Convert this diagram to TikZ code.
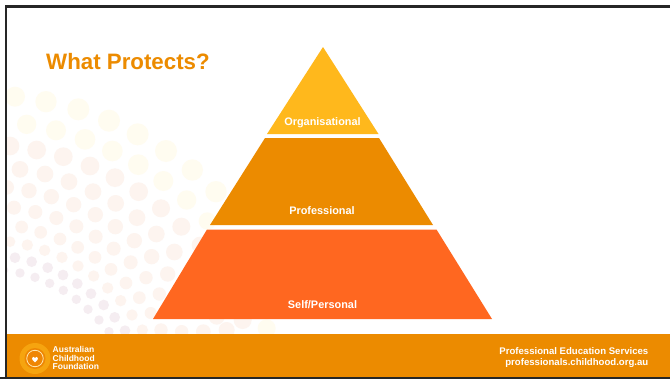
\documentclass[tikz,border=0pt]{standalone}
\usepackage{fontspec}
\setmainfont{Liberation Sans}
\definecolor{ygold}{HTML}{FFB81C}
\definecolor{oband}{HTML}{EC8B00}
\definecolor{ored}{HTML}{FF6720}
\definecolor{dotY}{HTML}{FFFCF0}
\definecolor{dotP}{HTML}{FDF4EF}
\definecolor{dotV}{HTML}{F5EDF1}
\tikzset{
  px/.style={x=1pt,y=-1pt},
  lvl/.style={font=\fontsize{10.9}{12}\selectfont\bfseries,text=white,inner sep=0pt},
  foot/.style={font=\fontsize{9.6}{11.3}\selectfont\bfseries,text=white,inner sep=0pt},
}
\newcommand{\dotrow}[2]{\foreach \a/\b/\r in {#2}{\fill[#1] ({\a/3},{70+\b/3}) circle ({\r/3});}}
\begin{document}
\begin{tikzpicture}[px]
\useasboundingbox (0,0) rectangle (670,380);
\fill[white] (0,0) rectangle (670,380);
\begin{scope}
\clip (7,7) rectangle (670,334);
\dotrow{dotY}{45/80/30,138/95/32,235/118/33,327/152/33,413/193/33,498/243/33,577/300/32,648/365/32,80/163/29,168/181/30,255/208/31,337/243/31,415/284/31,490/333/30,560/390/29,622/453/26}
\dotrow{dotP}{30/228/28,110/240/28,190/260/28,270/288/28,345/323/28,416/365/28,483/415/27,544/470/27,600/525/25,
60/298/25,135/312/25,207/335/25,279/365/25,347/400/25,411/443/25,469/492/25,523/546/25,575/600/25,
20/352/22,87/362/23,154/380/23,221/404/23,286/434/23,346/470/23,403/512/23,455/560/23,503/612/23,553/665/23,
42/413/21,106/426/21,169/444/21,229/469/21,287/500/21,341/536/21,392/577/21,438/623/20,478/672/20,
65/471/19,122/487/19,180/507/19,233/532/19,285/562/19,333/598/19,378/639/19,418/683/19,452/729/18,
30/515/16,82/525/17,134/541/17,186/562/17,234/588/17,281/618/17,323/654/17,362/692/17,396/735/17,427/780/17,
483/780/20,545/785/20,610/785/22,680/780/24,650/740/24,728/750/27}
\dotrow{dotY}{800/775/27}
\dotrow{dotV}{45/563/16,95/575/16,143/593/16,189/615/16,232/641/16,273/671/16,311/705/16,344/742/16,375/782/16,
15/600/10,60/609/14,105/622/14,149/640/14,190/661/14,229/688/14,264/718/14,297/750/14,327/785/14}
\end{scope}
\fill[ygold] (323,47) -- (378.5,134) -- (267,134) -- cycle;
\fill[oband] (265,138) -- (379,138) -- (433,225) -- (210,225) -- cycle;
\fill[ored] (207,229.5) -- (436.5,229.5) -- (492,319) -- (153,319) -- cycle;
\fill[oband] (7,334) rectangle (670,377);
\fill[black!85] (0,377) rectangle (670,378.5);
\fill[black!85] (4.5,5) rectangle (7,378.5);
\fill[black!85] (4.5,5) rectangle (670,7.5);
\node[anchor=west,inner sep=0pt,text=oband,font=\fontsize{22.3}{27}\selectfont\bfseries] (title) at (46,62) {What Protects?};
\node[lvl] (org) at (322.5,123) {Organisational};
\node[lvl] (pro) at (322,211) {Professional};
\node[lvl] (self) at (322.5,305) {Self/Personal};
\fill[ygold!55!oband] (35,358.5) circle (15.5);
\fill[oband!90!ored] (35,358.5) circle (10.5);
\draw[ygold!35!white,line width=.9pt] (35,358.5) circle (8.2);
\fill[oband!85!ored] (35,358.5) circle (7.5);
\fill[white] (35,362.3) .. controls (32.5,360.2) and (31.8,359.2) .. (32.1,358) .. controls (32.6,356.6) and (34.5,356.6) .. (35,358) .. controls (35.5,356.6) and (37.4,356.6) .. (37.9,358) .. controls (38.2,359.2) and (37.5,360.2) .. (35,362.3) -- cycle;
\node[anchor=west,inner sep=0pt,text=white,align=left,font=\fontsize{8.5}{8.4}\selectfont\bfseries] (acf) at (52.5,358) {Australian\\Childhood\\Foundation};
\node[foot,align=right,anchor=east] (pes) at (648.5,357.5) {Professional Education Services\\professionals.childhood.org.au};
\end{tikzpicture}
\end{document}
